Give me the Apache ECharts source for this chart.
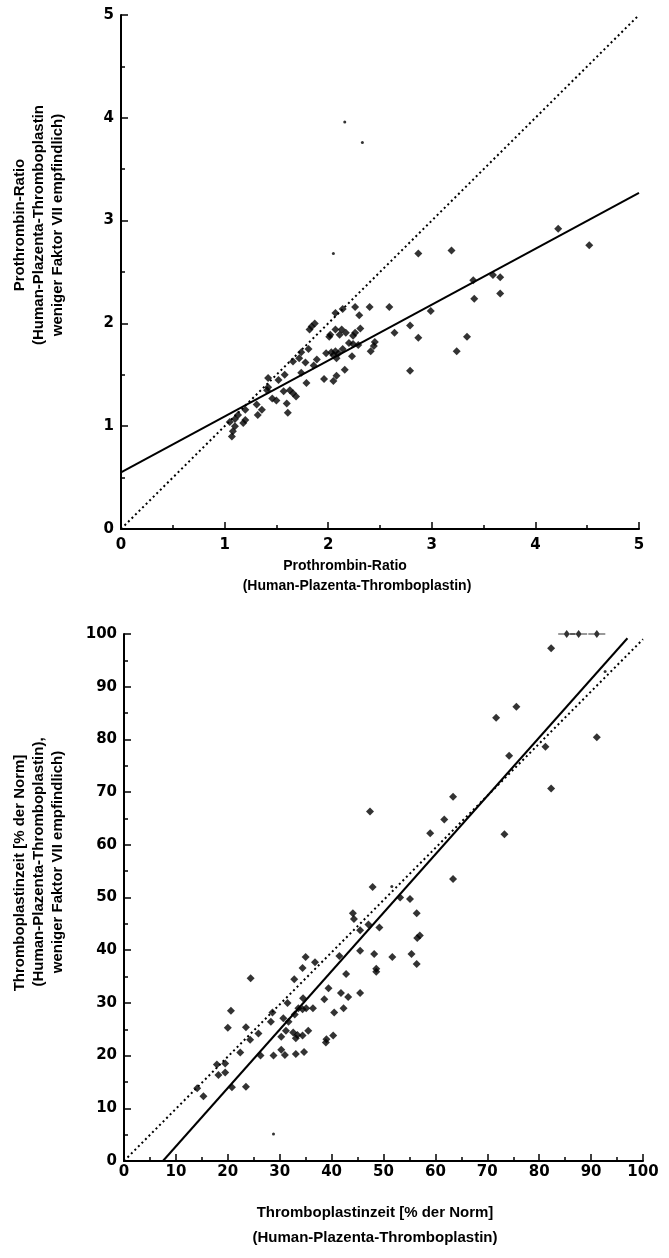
<!DOCTYPE html>
<html><head><meta charset="utf-8">
<script src="https://cdn.jsdelivr.net/npm/echarts@6/dist/echarts.min.js"></script>
<style>html,body{margin:0;padding:0;background:#fff}#c{width:669px;height:1258px}</style>
</head><body><div id="c"></div>
<script>
// ---------- Top chart: Prothrombin-Ratio ----------
const topX = [2.07,2.14,2.26,2.40,2.59,2.30,2.99,1.87,1.84,1.82,2.07,2.13,2.17,2.02,2.01,2.11,2.26,2.24,2.31,2.79,2.64,2.87,2.20,2.24,2.29,2.45,2.44,2.41,1.98,2.03,2.07,2.10,2.05,2.08,2.14,2.23,1.74,1.81,1.72,1.66,1.78,1.89,1.86,1.74,1.58,1.52,1.42,1.79,1.96,2.05,2.08,2.16,2.79,1.42,1.41,1.46,1.50,1.57,1.63,1.66,1.69,1.60,1.61,1.36,1.32,1.31,1.20,1.13,1.20,1.18,1.10,1.05,1.10,1.08,1.07,2.87,3.19,4.22,4.52,3.40,3.59,3.66,3.66,3.41,3.24,3.34];
const topY = [2.10,2.14,2.16,2.16,2.16,2.08,2.12,2.00,1.97,1.94,1.94,1.94,1.91,1.89,1.87,1.89,1.91,1.88,1.95,1.98,1.91,1.86,1.81,1.80,1.79,1.82,1.78,1.73,1.71,1.72,1.73,1.71,1.69,1.66,1.75,1.68,1.72,1.75,1.66,1.63,1.62,1.65,1.59,1.52,1.50,1.45,1.47,1.42,1.46,1.44,1.49,1.55,1.54,1.38,1.35,1.27,1.25,1.34,1.35,1.32,1.29,1.22,1.13,1.16,1.11,1.21,1.16,1.11,1.06,1.03,1.07,1.04,1.00,0.95,0.90,2.68,2.71,2.92,2.76,2.42,2.47,2.45,2.29,2.24,1.73,1.87];
const topSmallX = [2.16,2.33,2.05];
const topSmallY = [3.96,3.76,2.68];
const topFitLine = [[0,0.55],[5,3.27]];
const topIdentity = [[0,0],[5,5]];
const topTicks = [0,1,2,3,4,5];

// ---------- Bottom chart: Thromboplastinzeit ----------
const botX = [47.9,44.1,44.3,45.5,47.1,49.2,53.2,55.1,56.4,45.5,48.2,51.7,55.4,56.4,56.5,57.0,48.6,48.6,42.8,41.5,35.0,36.8,34.4,32.8,24.4,39.4,41.8,43.2,45.5,38.6,34.5,31.5,33.6,34.4,35.1,36.4,40.5,42.3,32.9,28.6,28.3,30.7,31.7,31.2,32.6,33.4,34.4,35.5,33.1,30.3,38.9,39.0,40.3,30.3,31.0,33.1,34.7,28.8,26.3,23.5,20.0,20.6,25.9,24.3,22.4,19.5,17.9,18.2,19.5,14.1,15.3,20.8,23.5,47.4,82.3,75.6,71.7,81.2,91.1,74.2,82.3,63.4,61.7,59.0,73.3,63.4];
const botY = [52.0,47.0,45.9,43.8,44.9,44.3,50.0,49.7,47.0,39.9,39.3,38.7,39.3,37.4,42.3,42.8,35.9,36.5,35.5,38.9,38.7,37.7,36.6,34.5,34.7,32.8,31.9,31.1,31.9,30.7,30.9,30.0,29.0,28.8,29.0,29.0,28.2,29.0,27.8,28.2,26.4,27.1,26.4,24.7,24.4,23.9,23.8,24.7,23.3,23.6,22.5,23.1,23.8,21.1,20.1,20.3,20.7,20.0,20.0,25.4,25.3,28.5,24.2,23.0,20.6,18.5,18.3,16.3,16.8,13.8,12.3,14.0,14.1,66.3,97.3,86.2,84.1,78.6,80.4,76.9,70.7,69.1,64.8,62.2,62.0,53.5];
const botTopX = [85.3,87.6,91.1];
const botTopY = [100,100,100];
const botSmallX = [28.8,51.6,92.7];
const botSmallY = [5.1,52.1,92.9];
const botFitLine = [[7.5,0],[97,99.2]];
const botIdentity = [[0,0],[100,99]];
const botTicks = [0,10,20,30,40,50,60,70,80,90,100];

const zip = (a,b) => a.map((v,i)=>[v,b[i]]);
const lbl = (margin) => ({color:'#000', fontFamily:'DejaVu Sans', fontWeight:'bold', fontSize:15, margin:margin});
function axis(gi, min, max, interval, margin){
  return {
    gridIndex: gi, type:'value', min:min, max:max, interval:interval,
    axisLine:{show:true, onZero:false, lineStyle:{color:'#000', width:2}},
    axisTick:{show:true, inside:true, length:7, lineStyle:{color:'#000', width:1.5}},
    minorTick:{show:true, splitNumber:2, length:4, lineStyle:{color:'#000', width:1.5}},
    splitLine:{show:false}, minorSplitLine:{show:false},
    axisLabel: lbl(margin)
  };
}
const diamond = 'path://M5,0 L10,5 L5,10 L0,5 Z';
const barDiamond = 'path://M0,4.3 H5.5 L8,0 L10.5,4.3 H16 V5.7 H10.5 L8,10 L5.5,5.7 H0 Z';
const dotted = {color:'#000', width:2, type:[2,3], cap:'butt'};
const solid = {color:'#000', width:2};
const T = (x,y,text,size,rot) => ({type:'text', x:x, y:y, rotation: rot ? Math.PI/2 : 0,
  style:{text:text, font:'bold '+size+'px "Liberation Sans"', fill:'#000', textAlign:'center', textVerticalAlign:'middle'}});

const chart = echarts.init(document.getElementById('c'), null, {renderer:'canvas'});
chart.setOption({
  backgroundColor:'#fff',
  animation:false,
  grid:[
    {left:121, top:15, width:518, height:514},
    {left:124, top:634, width:519, height:527}
  ],
  xAxis:[ axis(0,0,5,1,9), axis(1,0,100,10,4) ],
  yAxis:[ axis(0,0,5,1,7), axis(1,0,100,10,7) ],
  series:[
    {type:'line', xAxisIndex:0, yAxisIndex:0, data:topIdentity, symbol:'none', lineStyle:dotted, clip:false},
    {type:'line', xAxisIndex:0, yAxisIndex:0, data:topFitLine, symbol:'none', lineStyle:solid, clip:false},
    {type:'scatter', xAxisIndex:0, yAxisIndex:0, data:zip(topX,topY), symbol:diamond, symbolSize:8, itemStyle:{color:'#000'}},
    {type:'scatter', xAxisIndex:0, yAxisIndex:0, data:zip(topSmallX,topSmallY), symbol:'circle', symbolSize:3, itemStyle:{color:'#000'}},
    {type:'line', xAxisIndex:1, yAxisIndex:1, data:botIdentity, symbol:'none', lineStyle:dotted, clip:false},
    {type:'line', xAxisIndex:1, yAxisIndex:1, data:botFitLine, symbol:'none', lineStyle:solid, clip:false},
    {type:'scatter', xAxisIndex:1, yAxisIndex:1, data:zip(botX,botY), symbol:diamond, symbolSize:8, itemStyle:{color:'#000'}},
    {type:'scatter', xAxisIndex:1, yAxisIndex:1, data:zip(botTopX,botTopY), symbol:barDiamond, symbolSize:[17,8], itemStyle:{color:'#000'}, clip:false},
    {type:'scatter', xAxisIndex:1, yAxisIndex:1, data:zip(botSmallX,botSmallY), symbol:'circle', symbolSize:3, itemStyle:{color:'#000'}}
  ],
  graphic:[
    T(20,225,'Prothrombin-Ratio',15,true),
    T(39,225,'(Human-Plazenta-Thromboplastin',15,true),
    T(58,225,'weniger Faktor VII empfindlich)',15,true),
    T(345,566,'Prothrombin-Ratio',14,false),
    T(357,586,'(Human-Plazenta-Thromboplastin)',14,false),
    T(20,873,'Thromboplastinzeit [% der Norm]',15,true),
    T(39,862,'(Human-Plazenta-Thromboplastin),',15,true),
    T(58,862,'weniger Faktor VII empfindlich)',15,true),
    T(375,1213,'Thromboplastinzeit [% der Norm]',15,false),
    T(375,1238,'(Human-Plazenta-Thromboplastin)',15,false)
  ]
});
</script></body></html>
